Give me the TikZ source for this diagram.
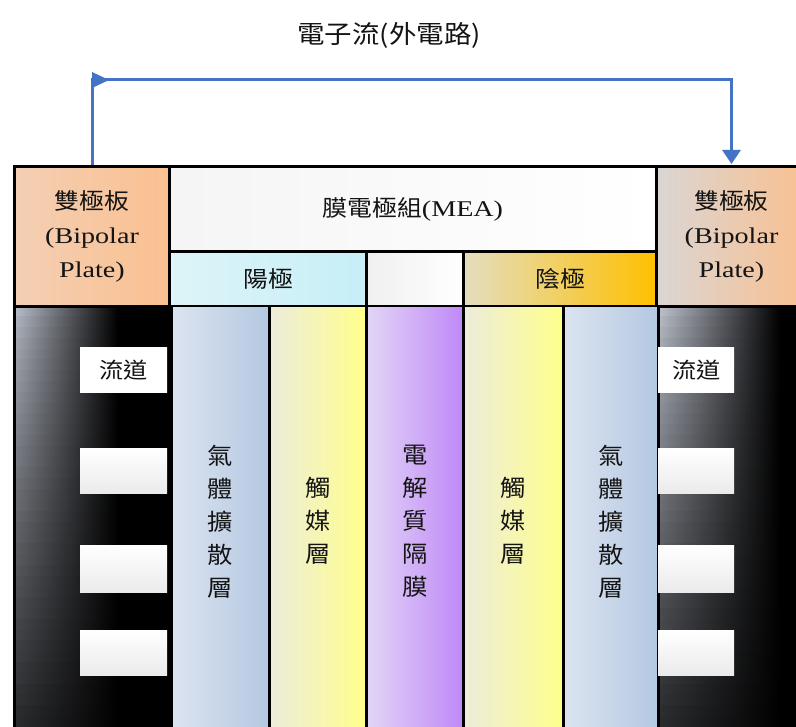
\documentclass[tikz,border=0pt]{standalone}
\usepackage{fontspec}
\setmainfont[FakeStretch=1.25]{Liberation Serif}
\newfontfamily\cjk[FakeStretch=1.1]{Noto Sans CJK TC}
\usetikzlibrary{arrows.meta}
\definecolor{flowblue}{RGB}{68,114,196}
\definecolor{edgegray}{RGB}{205,210,222}
\definecolor{txt}{RGB}{20,20,20}
\definecolor{peachL}{HTML}{F4CFB4}
\definecolor{peach}{HTML}{FAC090}
\definecolor{peachM}{HTML}{F7C8A0}
\definecolor{grayL}{HTML}{DAD6D4}
\definecolor{cyanL}{HTML}{DDF4F8}
\definecolor{cyanR}{HTML}{C6EFF7}
\definecolor{goldL}{HTML}{E4DEC0}
\definecolor{goldM}{HTML}{FACB20}
\definecolor{gold}{HTML}{FFC000}
\definecolor{gdlL}{HTML}{DCE4F0}
\definecolor{gdlR}{HTML}{B4C8E2}
\definecolor{catL}{HTML}{ECECDC}
\definecolor{catR}{HTML}{FFFF8C}
\definecolor{memL}{HTML}{E2D6F6}
\definecolor{memR}{HTML}{C088F8}
\begin{document}
\begin{tikzpicture}[x=1pt,y=-1pt,
  cell/.style={draw=black, line width=3pt, inner sep=0pt, anchor=north west, align=center,
    text=txt, font=\fontsize{22.5}{34}\selectfont},
  col/.style={cell, line width=2.5pt, font=\cjk\fontsize{23}{33}\selectfont},
  chan/.style={inner sep=0pt, anchor=north west, top color=white, bottom color=black!8,
    text=txt, font=\cjk\fontsize{22}{26}\selectfont},
  flowline/.style={draw=flowblue, line width=3pt}]
\useasboundingbox (0,0) rectangle (796,727);
\clip (0,0) rectangle (796,727);
\fill[white] (0,0) rectangle (796,727);

% title
\node[text=txt, font=\cjk\fontsize{25}{28}\selectfont] (title) at (389,35) {電子流(外電路)};

% top row
\node[cell, minimum width=155pt, minimum height=140pt, left color=peachL, right color=peach] (lp) at (13,165)
  {{\cjk 雙極板}\\(Bipolar\\Plate)};
\node[cell, minimum width=487pt, minimum height=85pt, left color=black!4, right color=white] (mea) at (168,165)
  {{\cjk 膜電極組}(MEA)};
\node[cell, minimum width=197pt, minimum height=55pt, left color=cyanL, right color=cyanR] (an) at (168,250)
  {\cjk 陽極};
\node[cell, minimum width=97pt, minimum height=55pt, left color=black!6, right color=white] (gap) at (365,250) {};
\node[cell, minimum width=193pt, minimum height=55pt, left color=goldL, middle color=goldM, right color=gold] (ca) at (462,250)
  {\cjk 陰極};
\node[cell, minimum width=150pt, minimum height=140pt, left color=grayL, middle color=peachM, right color=peach] (rp) at (655,165)
  {{\cjk 雙極板}\\(Bipolar\\Plate)};

% left flow-field plate (dark)
\fill[black] (13,305) rectangle (170,740);
\foreach \i in {0,...,39}{
  \pgfmathtruncatemacro\p{90-70*(\i/39)^0.8}
  \shade[left color=edgegray!\p!black, right color=black] (14,{306+\i*10.8}) rectangle (118,{317.5+\i*10.8});
}
\node[cell, minimum width=157pt, minimum height=435pt] (lb) at (13,305) {};

% right flow-field plate (dark)
\fill[black] (657,305) rectangle (800,740);
\foreach \i in {0,...,39}{
  \pgfmathtruncatemacro\p{92-72*(\i/39)^0.8}
  \shade[left color=edgegray!\p!black, right color=black] (658,{306+\i*10.8}) rectangle (780,{317.5+\i*10.8});
}
\node[cell, minimum width=150pt, minimum height=435pt] (rb) at (657,305) {};

% MEA layers
\node[col, minimum width=98pt, minimum height=430pt, left color=gdlL, right color=gdlR] (g1) at (170,305)
  {氣\\體\\擴\\散\\層};
\node[col, minimum width=97pt, minimum height=430pt, left color=catL, right color=catR] (c1) at (268,305)
  {觸\\媒\\層};
\node[col, minimum width=97pt, minimum height=430pt, left color=memL, right color=memR] (el) at (365,305)
  {電\\解\\質\\隔\\膜};
\node[col, minimum width=100pt, minimum height=430pt, left color=catL, right color=catR] (c2) at (462,305)
  {觸\\媒\\層};
\node[col, minimum width=95pt, minimum height=430pt, left color=gdlL, right color=gdlR] (g2) at (562,305)
  {氣\\體\\擴\\散\\層};

% flow channels
\node[chan, minimum width=87pt, minimum height=45pt, top color=white, bottom color=white] (ch1) at (80,347) {流道};
\node[chan, minimum width=87pt, minimum height=45pt] (ch2) at (80,448) {};
\node[chan, minimum width=87pt, minimum height=47pt] (ch3) at (80,545) {};
\node[chan, minimum width=87pt, minimum height=45pt] (ch4) at (80,630) {};
\node[chan, minimum width=76pt, minimum height=45pt, top color=white, bottom color=white] (ch5) at (658,347) {流道};
\node[chan, minimum width=76pt, minimum height=45pt] (ch6) at (658,448) {};
\node[chan, minimum width=76pt, minimum height=47pt] (ch7) at (658,545) {};
\node[chan, minimum width=76pt, minimum height=45pt] (ch8) at (658,630) {};

% external circuit (electron flow)
\coordinate (corner) at (lp.north |- 0,80);
\draw[flowline, -{Triangle[width=18pt,length=14pt]}, shorten >=1pt] (lp.north) -- (corner) -| (rp.north);
\fill[flowblue] (corner) ++(0,-8) -- ++(17,8) -- ++(-17,8) -- cycle;
\end{tikzpicture}
\end{document}
